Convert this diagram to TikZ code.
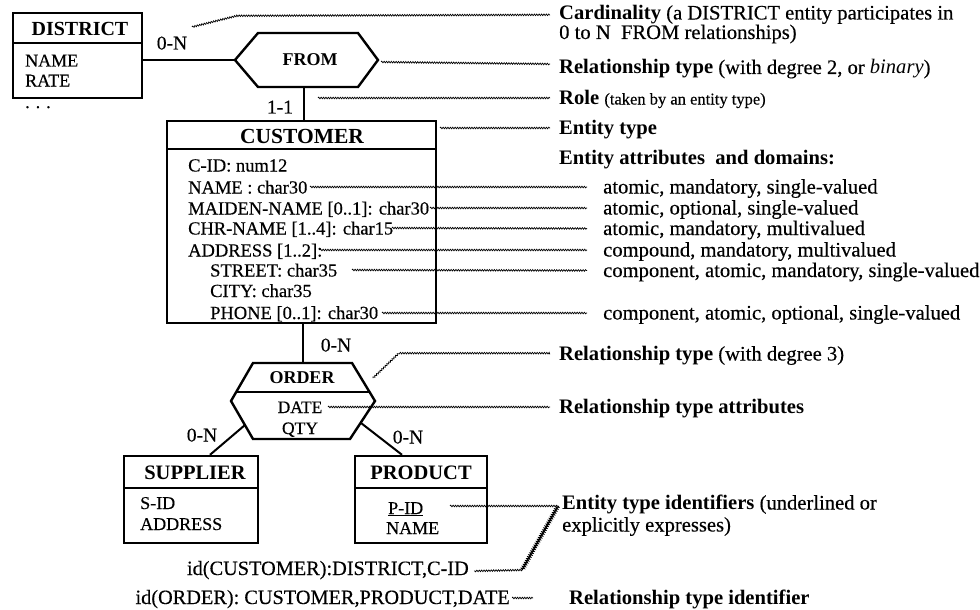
\documentclass[tikz,border=0pt]{standalone}
\usepackage{fontspec}
\setmainfont{Liberation Serif}[UprightFeatures={FakeBold=0.35}]
\usetikzlibrary{decorations.pathmorphing,calc}

\newcommand{\fsz}[1]{\fontsize{#1}{#1}\selectfont}

\begin{document}
\begin{tikzpicture}[x=1pt,y=-1pt,
  entity/.style={draw, line width=2.4pt, inner sep=0pt},
  divider/.style={line width=2pt},
  relshape/.style={line width=2.4pt, line join=miter},
  link/.style={line width=2.4pt},
  thinlink/.style={line width=2pt},
  head/.style={font=\fsz{20.5}\bfseries, inner sep=0pt, anchor=base},
  relname/.style={font=\fsz{18}\bfseries, inner sep=0pt, anchor=base},
  attr/.style={font=\fsz{18.5}, inner sep=0pt, anchor=base west},
  sattr/.style={font=\fsz{18}, inner sep=0pt, anchor=base west},
  card/.style={font=\fsz{19.5}, inner sep=0pt, anchor=base},
  lbl/.style={font=\fsz{20.6}, inner sep=0pt, anchor=base west},
  idtext/.style={font=\fsz{20.3}, inner sep=0pt, anchor=base east},
  wavy/.style={decorate, decoration={snake, amplitude=0.8pt, segment length=2.4pt}, line width=0.7pt},
  heavywavy/.style={decorate, decoration={snake, amplitude=1.3pt, segment length=2.2pt}, line width=1.1pt},
]
\useasboundingbox (0,0) rectangle (980,610);

% ---------- DISTRICT ----------
\node[entity, minimum width=129pt, minimum height=85pt] (district) at (77.5,55.5) {};
\draw[divider] (13,43) -- (142,43);
\node[head, font=\fsz{20}\bfseries] (districtT) at (80,36) {DISTRICT};
\node[sattr] (dName) at (25,66.5) {NAME};
\node[sattr] (dRate) at (25,86.5) {RATE};
\node[sattr] (dMore) at (25,108) {.\,\,.\,\,.};

% ---------- FROM (binary relationship) ----------
\coordinate (fromW) at (235,60);
\coordinate (fromE) at (378,60);
\coordinate (fromS) at (304,87);
\draw[relshape] (fromW) -- (258,33) -- (358,33) -- (fromE) -- (358,87) -- (258,87) -- cycle;
\node[relname] (from) at (310,66) {FROM};

\draw[link] (district.east |- fromW) -- (fromW);
\node[card] (cDist) at (172,49.5) {0-N};

% ---------- CUSTOMER ----------
\node[entity, minimum width=269pt, minimum height=202pt] (customer) at (301.5,222) {};
\draw[link] (fromS) -- (customer.north -| fromS);
\node[card] (cCust) at (280,113.5) {1-1};
\draw[divider] (167,149) -- (436,149);
\node[head, font=\fsz{21.5}\bfseries] (customerT) at (302,143) {CUSTOMER};
\node[attr] (aCid)    at (188,171.5) {C-ID: num12};
\node[attr] (aName)   at (188,193.5) {NAME : char30};
\node[attr] (aMaiden) at (188,214.5) {MAIDEN-NAME [0..1]: char30};
\node[attr] (aChr)    at (188,234.5) {CHR-NAME [1..4]: char15};
\node[attr] (aAddr)   at (188,256.5) {ADDRESS [1..2]:};
\node[attr] (aStreet) at (210,276.5) {STREET: char35};
\node[attr] (aCity)   at (210,297) {CITY: char35};
\node[attr] (aPhone)  at (210,319) {PHONE [0..1]: char30};

% ---------- ORDER (ternary relationship with attributes) ----------
\coordinate (orderN) at (303,363);
\coordinate (orderSW) at (245,425);
\coordinate (orderSE) at (361,423);
\draw[relshape] (253,363) -- (352,363) -- (375,401) -- (350,439) -- (253,439) -- (231,401) -- cycle;
\draw[divider] (236.2,392) -- (369.6,392);
\node[relname] (order) at (302,383.5) {ORDER};
\node[sattr, anchor=base, font=\fsz{17.5}] (oDate) at (300,413) {DATE};
\node[sattr, anchor=base, font=\fsz{17.5}] (oQty) at (300,434) {QTY};
\draw[link] (customer.south -| orderN) -- (orderN);
\node[card] (cOrd) at (336,351.5) {0-N};

% ---------- SUPPLIER ----------
\node[entity, minimum width=134pt, minimum height=87pt] (supplier) at (191,499.5) {};
\draw[divider] (124,488) -- (258,488);
\node[head] (supplierT) at (195,479) {SUPPLIER};
\node[sattr] (sId)   at (140,509) {S-ID};
\node[sattr] (sAddr) at (140,530) {ADDRESS};
\draw[thinlink] (orderSW) -- ($(supplier.north)+(19,0)$);
\node[card] (cSup) at (202,441.5) {0-N};

% ---------- PRODUCT ----------
\node[entity, minimum width=132pt, minimum height=87pt] (product) at (421,499.5) {};
\draw[divider] (355,488) -- (487,488);
\node[head] (productT) at (421,479) {PRODUCT};
\node[sattr] (pId)   at (388,514) {\underline{P-ID}};
\node[sattr] (pName) at (386,534) {NAME};
\draw[thinlink] (orderSE) -- ($(product.north)+(-19,0)$);
\node[card] (cProd) at (408,443.5) {0-N};

% ---------- identifiers ----------
\node[idtext] (idCust)  at (469,575) {id(CUSTOMER):DISTRICT,C-ID};
\node[idtext] (idOrder) at (510,604) {id(ORDER): CUSTOMER,PRODUCT,DATE};

% ---------- annotations ----------
\node[lbl] (lCard)  at (559,19.5) {\textbf{Cardinality} (a DISTRICT entity participates in};
\node[lbl] (lCard2) at (559,39) {0 to N\ \ FROM relationships)};
\node[lbl] (lRel2)  at (559,74) {\textbf{Relationship type} (with degree 2, or \textit{binary})};
\node[lbl] (lRole)  at (559,104.5) {\textbf{Role} {\fsz{16.5}(taken by an entity type)}};
\node[lbl] (lEnt)   at (559,134.5) {\textbf{Entity type}};
\node[lbl] (lAttr)  at (559,164.5) {\textbf{Entity attributes\ \ and domains:}};
\node[lbl] (dA) at (603,193.5) {atomic, mandatory, single-valued};
\node[lbl] (dB) at (603,214.5) {atomic, optional, single-valued};
\node[lbl] (dC) at (603,235) {atomic, mandatory, multivalued};
\node[lbl] (dD) at (603,256.5) {compound, mandatory, multivalued};
\node[lbl] (dE) at (603,277) {component, atomic, mandatory, single-valued};
\node[lbl] (dF) at (603,319.5) {component, atomic, optional, single-valued};
\node[lbl] (lRel3)  at (559,360.5) {\textbf{Relationship type} (with degree 3)};
\node[lbl] (lRAtt)  at (559,413.5) {\textbf{Relationship type attributes}};
\node[lbl] (lEid)   at (562,509.5) {\textbf{Entity type identifiers} (underlined or};
\node[lbl] (lEid2)  at (562,531.5) {explicitly expresses)};
\node[lbl] (lRid)   at (569,604.5) {\textbf{Relationship type identifier}};

% wavy leader lines
\coordinate (wCardS) at (192,27);   \coordinate (wCardE) at (550,15);
\coordinate (wFromS) at (381,62);   \coordinate (wFromE) at (550,64);
\coordinate (wRoleS) at (318,98);   \coordinate (wRoleE) at (550,98);
\coordinate (wEntS)  at (440,128);  \coordinate (wEntE)  at (550,128);
\coordinate (wNameS) at (310,187);  \coordinate (wNameE) at (587,187);
\coordinate (wMaidS) at (430,208);  \coordinate (wMaidE) at (587,208);
\coordinate (wChrS)  at (392,228);  \coordinate (wChrE)  at (587,228.5);
\coordinate (wAddrS) at (320,250);  \coordinate (wAddrE) at (587,250);
\coordinate (wStrS)  at (352,270);  \coordinate (wStrE)  at (587,270.5);
\coordinate (wPhS)   at (382,313);  \coordinate (wPhE)   at (587,313);
\coordinate (wDeg3S) at (373,378);  \coordinate (wDeg3E) at (550,354);
\coordinate (wDateS) at (328,407);  \coordinate (wDateE) at (550,407);
\coordinate (wPidS)  at (450,506);  \coordinate (wPidE)  at (558,506);
\coordinate (wBend)  at (522,570);
\coordinate (wIdcS)  at (474,571);
\coordinate (wIdoS)  at (512,598);  \coordinate (wIdoE)  at (533,598);

\draw[wavy] (wCardS) -- (236,16) -- (wCardE);
\draw[wavy] (wFromS) -- (wFromE);
\draw[wavy] (wRoleS) -- (wRoleE);
\draw[wavy] (wEntS) -- (wEntE);
\draw[wavy] (wNameS) -- (wNameE);
\draw[wavy] (wMaidS) -- (wMaidE);
\draw[wavy] (wChrS) -- (wChrE);
\draw[wavy] (wAddrS) -- (wAddrE);
\draw[wavy] (wStrS) -- (wStrE);
\draw[wavy] (wPhS) -- (wPhE);
\draw[wavy] (wDeg3S) -- (398,354) -- (wDeg3E);
\draw[wavy] (wDateS) -- (wDateE);
\draw[wavy] (wPidS) -- (wPidE);
\draw[heavywavy] (wPidE) -- (wBend);
\draw[wavy] (wBend) -- (wIdcS);
\draw[wavy] (wIdoS) -- (wIdoE);
\end{tikzpicture}
\end{document}
